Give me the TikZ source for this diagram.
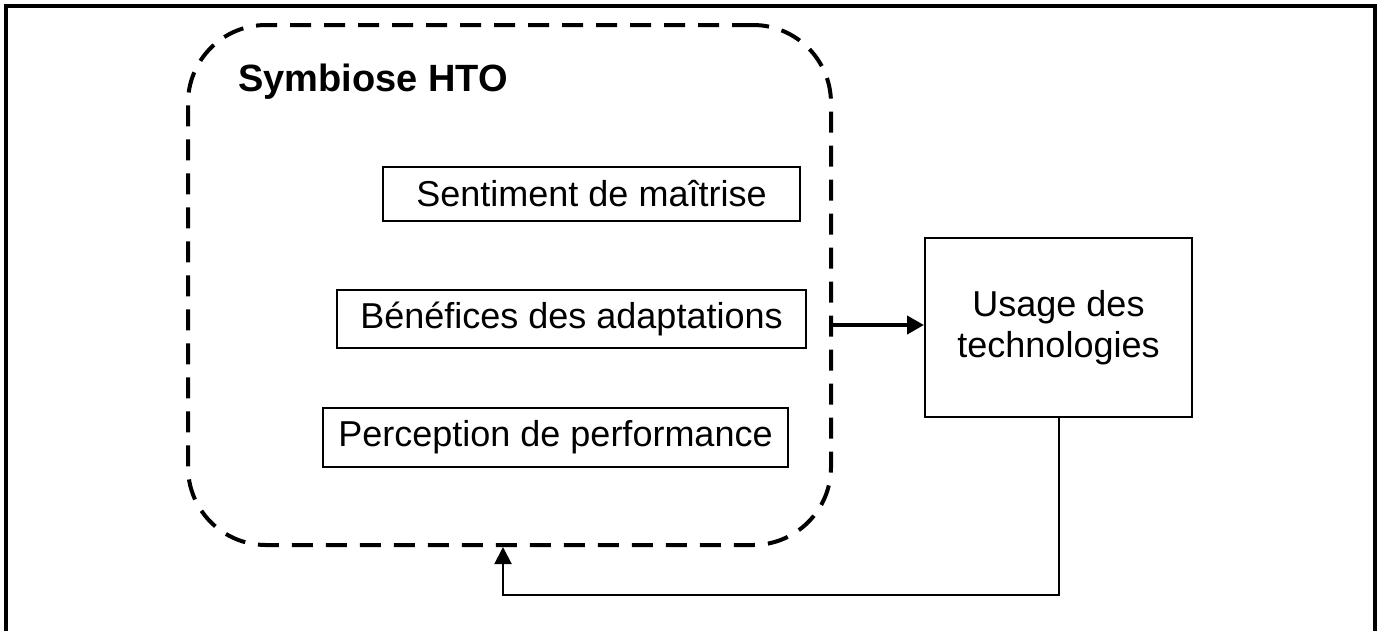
\documentclass[tikz,border=0pt]{standalone}
\usepackage{fontspec}
\setmainfont{Liberation Sans}
\usetikzlibrary{arrows.meta}
\begin{document}
\begin{tikzpicture}[x=1pt,y=-1pt,
  box/.style={draw, line width=2pt, inner sep=0pt, font=\fontsize{36}{41}\selectfont},
  dashbox/.style={draw, line width=4pt, dash pattern=on 21pt off 13pt, rounded corners=78pt, inner sep=0pt},
  frame/.style={line width=3.5pt},
  conn/.style={line width=2pt, -{Triangle[length=17pt,width=17pt]}},
  thickconn/.style={line width=4pt, -{Triangle[length=17pt,width=18pt]}},
]
\useasboundingbox (0,0) rectangle (1380,630);
\draw[frame] (6,632) -- (6,6) -- (1375,6) -- (1375,632);
\node[dashbox, minimum width=643pt, minimum height=520pt] (hto) at (509.5,285) {};
\node[font=\fontsize{38}{42}\selectfont\bfseries] (title) at (373,82) {Symbiose HTO};
\node[box, minimum width=417pt, minimum height=54pt] (sent) at (591.5,194) {Sentiment de maîtrise\hspace{6pt}};
\node[box, minimum width=469pt, minimum height=58pt] (bene) at (571.5,319) {Bénéfices des adaptations\hspace{6pt}};
\node[box, minimum width=465pt, minimum height=59pt] (perc) at (555.5,437.5) {Perception de performance\hspace{6pt}};
\node[box, minimum width=267pt, minimum height=179pt, align=center] (usage) at (1058.5,327.5) {Usage des\\technologies};
\coordinate (fb) at (503,595);
\draw[thickconn] (hto.east |- 0,325) -- (usage.west |- 0,325);
\draw[conn] (usage.south) |- (fb) -- (fb |- hto.south);
\end{tikzpicture}
\end{document}
